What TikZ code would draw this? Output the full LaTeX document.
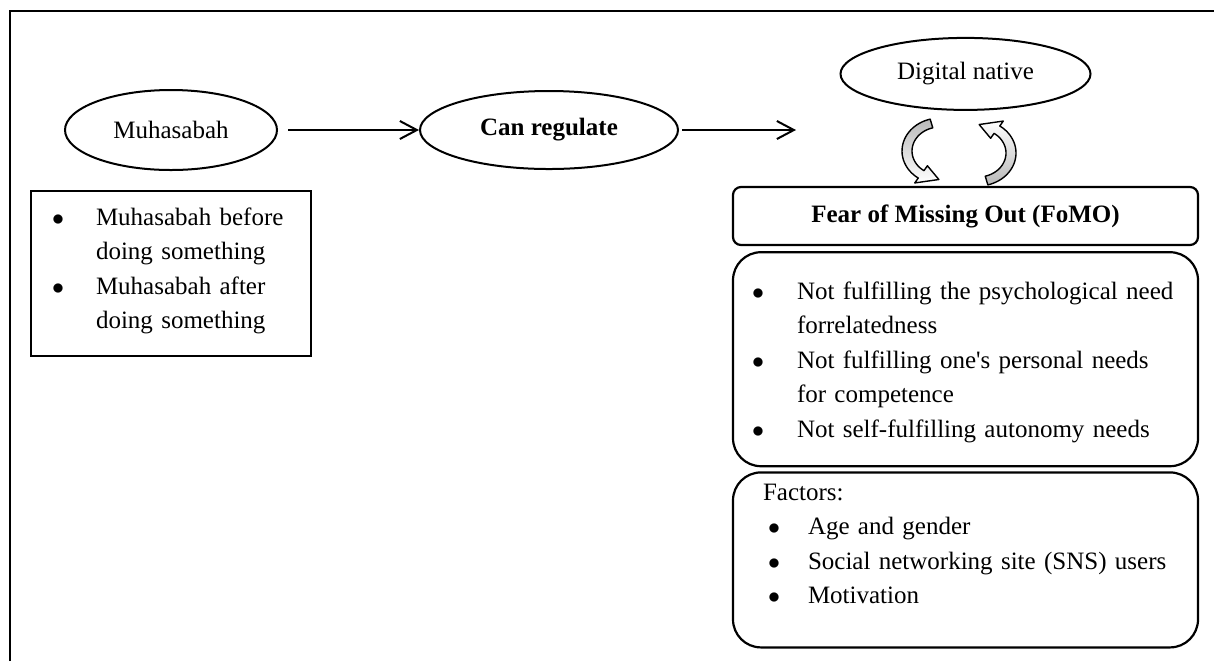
\documentclass[tikz,border=0pt]{standalone}
\usepackage{fontspec}
\setmainfont{Liberation Serif}
\usetikzlibrary{positioning,arrows.meta,shapes.geometric}
\tikzset{
  oval/.style={draw, ellipse, line width=1pt, inner sep=0pt},
  sqbox/.style={draw, line width=1.1pt, inner sep=0pt, align=left},
  rbox/.style={sqbox, rounded corners=14pt},
  arr/.style={-{Straight Barb[length=8.5pt,width=9pt]}, line width=1pt},
  cyc/.style={draw, line width=0.7pt, line join=round},
}
\newcommand{\bitem}[3]{\noindent\hangindent=#1\hangafter=1\makebox[#1][l]{\hspace{#2}$\bullet$}#3\par}

\begin{document}
\begin{tikzpicture}[x=0.5pt, y=-0.5pt, font=\fontsize{12.5}{17.25}\selectfont]
\useasboundingbox (0,0) rectangle (1214,661);
\draw[line width=1.3pt] (10,661) |- (1214,11);
\node[oval, minimum width=106pt, minimum height=40pt] (muh) at (171,130) {Muhasabah};
\node[oval, minimum width=129pt, minimum height=39pt, right=70.5pt of muh, font=\fontsize{12.5}{17.25}\selectfont\bfseries] (can) {Can regulate};
\coordinate (tip) at (796,130);
\node[sqbox, below=9.5pt of muh, text width=140pt, text height=17pt, text depth=65.5pt] (muhbox) {%
  \bitem{32.5pt}{10.5pt}{Muhasabah before\newline doing something}%
  \bitem{32.5pt}{10.5pt}{Muhasabah after\newline doing something}};
\node[sqbox, rounded corners=4pt, minimum width=232.5pt, minimum height=29pt, font=\fontsize{12.5}{17.25}\selectfont\bfseries] (fomo) at (965.5,216) {Fear of Missing Out (FoMO)};
\node[oval, minimum width=125pt, minimum height=36pt, above=37.5pt of fomo] (digi) {Digital native};
\node[rbox, below=2.5pt of fomo, text width=232.5pt, text height=23.5pt, text depth=83.5pt] (needs) {%
  \bitem{32pt}{9.5pt}{Not fulfilling the psychological need\newline forrelatedness}%
  \bitem{32pt}{9.5pt}{Not fulfilling one\textquotesingle s personal needs\newline for competence}%
  \bitem{32pt}{9.5pt}{Not self-fulfilling autonomy needs}};
\node[rbox, below=2pt of needs, text width=232.5pt, text height=14pt, text depth=73.5pt] (factors) {%
  \noindent\hspace*{15pt}Factors:\par
  \bitem{37.5pt}{17.5pt}{Age and gender}%
  \bitem{37.5pt}{17.5pt}{Social networking site (SNS) users}%
  \bitem{37.5pt}{17.5pt}{Motivation}};
\draw[arr, shorten <=5pt] (muh) -- (can);
\draw[arr, shorten <=1.5pt] (can) -- (tip);
% cycle arrows between digital native and FoMO
\draw[cyc, top color=gray!55, bottom color=white]
  plot[domain=255:125, samples=30] ({940+38*cos(\x)},{151+33*sin(\x)})
  -- ({940+44*cos(125)},{151+39*sin(125)}) -- ({940+33*cos(92)},{151+28.5*sin(92)})
  -- ({940+22*cos(125)},{151+18*sin(125)})
  -- plot[domain=125:255, samples=30] ({940+28*cos(\x)},{151+24*sin(\x)}) -- cycle;
\draw[cyc, top color=white, bottom color=gray!55]
  plot[domain=75:-55, samples=30] ({978+38*cos(\x)},{153+33*sin(\x)})
  -- ({978+44*cos(-55)},{153+39*sin(-55)}) -- ({978+33*cos(-88)},{153+28.5*sin(-88)})
  -- ({978+22*cos(-55)},{153+18*sin(-55)})
  -- plot[domain=-55:75, samples=30] ({978+28*cos(\x)},{153+24*sin(\x)}) -- cycle;
\end{tikzpicture}
\end{document}
